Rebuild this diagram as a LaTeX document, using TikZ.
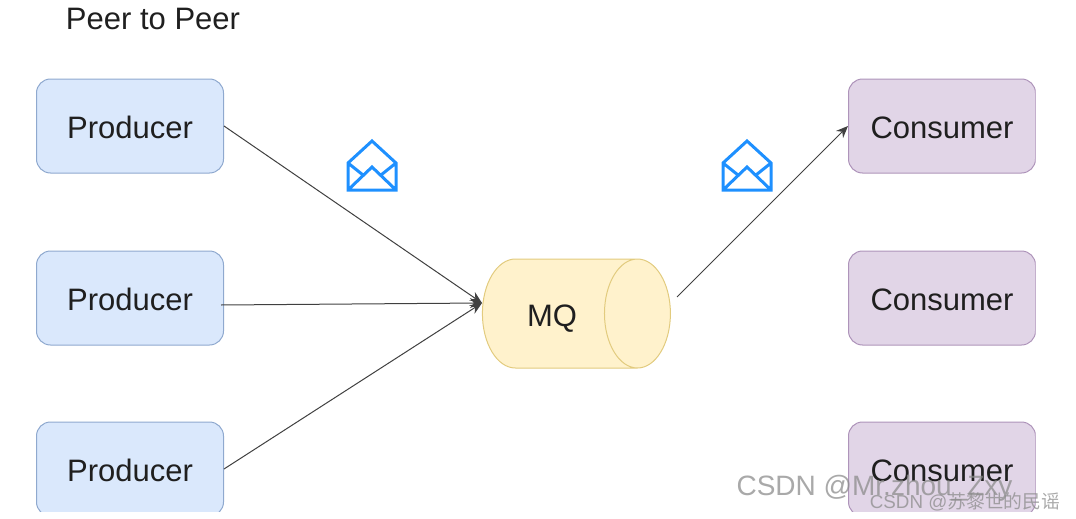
\documentclass[tikz,border=0pt]{standalone}
\usepackage{fontspec}
\setmainfont{Liberation Sans}
\newfontfamily\cjkfont{Noto Sans CJK SC}
\usetikzlibrary{arrows.meta,shapes.geometric}

\begin{document}
\begin{tikzpicture}[
    x=1pt, y=-1pt,
    every node/.style={font=\fontsize{31}{36}\selectfont, text=black!88},
    box/.style={rectangle, draw, rounded corners=14pt, line width=1pt, minimum width=187pt, minimum height=94pt, text height=25pt},
    producer/.style={box, fill=prodfill, draw=prodline},
    consumer/.style={box, fill=consfill, draw=consline},
    queue/.style={cylinder, draw=queueline, fill=queuefill, line width=1pt, aspect=2.3, minimum width=109pt, minimum height=188pt},
    link/.style={draw=black!75, line width=1pt, -{Stealth[length=12pt,width=10pt]}},
    mail/.pic={
        \draw[mailblue, line width=3pt, line join=miter]
            (-24,-3) -- (0,-25) -- (24,-3) -- (24,24) -- (-24,24) -- cycle
            (-24,24) -- (0,1) -- (24,24)
            (-24,-3) -- (-9,9)
            (24,-3) -- (9,9);
    },
    stamp/.style={font=\fontsize{#1}{#1}\selectfont, text=black!45, text opacity=0.75}
]
\definecolor{prodfill}{HTML}{DAE8FC}
\definecolor{prodline}{HTML}{8FA9CF}
\definecolor{consfill}{HTML}{E1D5E7}
\definecolor{consline}{HTML}{AE94BA}
\definecolor{queuefill}{HTML}{FFF2CC}
\definecolor{queueline}{HTML}{E2CB7E}
\definecolor{mailblue}{HTML}{1E90FF}

\useasboundingbox (0,0) rectangle (1076,519);

\node (title) at (153,19) {Peer to Peer};

\begin{scope}
\clip (0,0) rectangle (1035.5,511);
\node[producer] (prod1) at (130,126) {Producer};
\node[producer] (prod2) at (130,298) {Producer};
\node[producer] (prod3) at (130,469) {Producer};
\node[consumer] (cons1) at (942,126) {Consumer};
\node[consumer] (cons2) at (942,298) {Consumer};
\node[consumer] (cons3) at (942,469) {Consumer};
\end{scope}

\node[queue] (mq) at (554,313.5) {\raisebox{-2pt}[22pt][0pt]{MQ}\hspace*{4pt}};

\coordinate (mqin) at (482,303);
\coordinate (mqout) at (677,297);
\coordinate (prod2out) at (221,305);

\draw[link] (prod1.east) -- (mqin);
\draw[link] (prod2out) -- (mqin);
\draw[link] (prod3.east) -- (mqin);
\draw[link] (mqout) -- (cons1.west);

\pic at (372,166) {mail};
\pic at (747,166) {mail};

% watermarks
\node[stamp=28] (mark1) at (874.5,488) {CSDN @Mr.zhou\_Zxy};
\node[stamp=18.8] (mark2) at (965,502) {CSDN @{\cjkfont 苏黎世的民谣}};

\end{tikzpicture}
\end{document}
